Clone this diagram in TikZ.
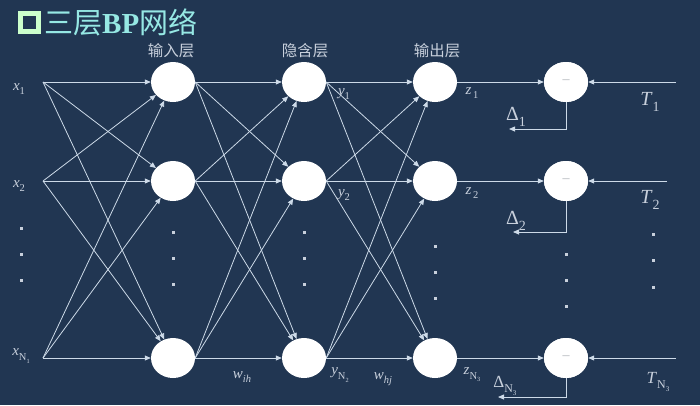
\documentclass[tikz,border=0pt]{standalone}
\usepackage{fontspec}
\setmainfont{Liberation Serif}
\newfontfamily\cjk{Noto Sans CJK SC}
\usetikzlibrary{arrows.meta,shapes.geometric}
\definecolor{bg}{RGB}{33,54,82}
\definecolor{linec}{RGB}{205,218,232}
\definecolor{labc}{RGB}{200,208,220}
\definecolor{titlec}{RGB}{150,232,228}
\definecolor{boxc}{RGB}{204,255,204}
\definecolor{minusc}{RGB}{175,180,185}
\newcommand\lbl[2]{\textit{#1}\raisebox{-0.28em}{\scalebox{0.7}{#2}}}
\newcommand\lblN[3]{\textit{#1}\raisebox{-0.3em}{\scalebox{0.7}{#2\raisebox{-0.25em}{\scalebox{0.6}{#3}}}}}
\tikzset{
  neuron/.style={ellipse, fill=white, draw=none, minimum width=44pt, minimum height=40pt, inner sep=0pt},
  minusnode/.style={neuron, font=\fontsize{14}{14}\selectfont, text=minusc},
  conn/.style={draw=linec, line width=0.8pt, -{Triangle[length=6pt,width=5pt]}},
  lab/.style={text=labc, inner sep=0pt, font=\fontsize{15}{15}\selectfont},
  biglab/.style={text=labc, inner sep=0pt, font=\fontsize{20}{20}\selectfont},
  midlab/.style={text=labc, inner sep=0pt, font=\fontsize{17}{17}\selectfont},
  layerlab/.style={text=labc, inner sep=0pt, font=\cjk\fontsize{15.5}{15.5}\selectfont},
  dotmark/.style={fill=labc, minimum size=3pt, inner sep=0pt}
}
\begin{document}
\begin{tikzpicture}[x=1pt,y=-1pt]
\fill[bg] (0,0) rectangle (700,405);
\useasboundingbox (0,0) rectangle (700,405);
% title
\node[draw=boxc, line width=5pt, fill=bg, minimum size=18pt, inner sep=0pt] (tbox) at (29.5,22) {};
\node[anchor=west, text=titlec, inner sep=0pt, font=\cjk\fontsize{29}{29}\selectfont] (title) at (44,22) {三层{\rmfamily\bfseries BP}网络};
% layer labels
\node[layerlab] (L1) at (171,51) {输入层};
\node[layerlab] (L2) at (305,51) {隐含层};
\node[layerlab] (L3) at (437,51) {输出层};
% input points
\coordinate (s1) at (43,82);
\coordinate (s2) at (43,181);
\coordinate (s3) at (43,358);
% neurons
\foreach \n/\x in {i/173,h/304,o/435,m/566}{
  \node[neuron] (\n1) at (\x,82) {};
  \node[neuron] (\n2) at (\x,181) {};
  \node[neuron] (\n3) at (\x,358) {};
}
\foreach \k in {1,2,3}{\node[minusnode] (mm\k) at (m\k) {--};}
% connections
\foreach \a in {1,2,3}{\foreach \b in {1,2,3}{
  \draw[conn] (s\a) -- (i\b);
  \draw[conn] (i\a.east) -- (h\b);
  \draw[conn] (h\a.east) -- (o\b);
}}
\foreach \k in {1,2,3}{\draw[conn] (o\k.east) -- (m\k);}
% targets
\coordinate (t1) at (676,82);
\coordinate (t2) at (667,181);
\coordinate (t3) at (676,358);
\foreach \k in {1,2,3}{\draw[conn] (t\k) -- (m\k);}
% feedback
\coordinate (d1) at (509,129);
\coordinate (d2) at (513,232);
\coordinate (d3) at (498,397);
\foreach \k in {1,2,3}{\draw[conn] (m\k.south) |- (d\k);}
% labels
\node[lab] (lx1) at (19,89) {\lbl{x}{1}};
\node[lab] (lx2) at (19,186) {\lbl{x}{2}};
\node[lab] (lx3) at (21,356) {\lblN{x}{N}{1}};
\node[lab] (ly1) at (344,94) {\lbl{y}{1}};
\node[lab] (ly2) at (344,195) {\lbl{y}{2}};
\node[lab] (ly3) at (340,375) {\lblN{y}{N}{2}};
\node[lab] (lz1) at (472,93) {\lbl{z}{\,1}};
\node[lab] (lz2) at (472,193) {\lbl{z}{\,2}};
\node[lab] (lz3) at (472,375) {\lblN{z}{N}{3}};
\node[lab] (lw1) at (242,377) {\lbl{w}{\textit{ih}}};
\node[lab] (lw2) at (383,379) {\lbl{w}{\textit{hj}}};
\node[biglab] (ld1) at (516,117) {\lbl{\upshape Δ}{1}};
\node[biglab] (ld2) at (516,221) {\lbl{\upshape Δ}{2}};
\node[midlab] (ld3) at (505,386) {\lblN{\upshape Δ}{N}{3}};
\node[biglab] (lt1) at (650,102) {\lbl{T}{1}};
\node[biglab] (lt2) at (650,200) {\lbl{T}{2}};
\node[midlab] (lt3) at (658,382) {\lblN{T}{N}{3}};
% dots
\foreach \x/\y in {21/228,21/254,21/280,
  173/232,173/258,173/284, 304/232,304/258,304/284,
  435/246,435/272,435/298, 566/254,566/280,566/306,
  653/234,653/260,653/287}{
  \node[dotmark] at (\x,\y) {};
}
\end{tikzpicture}
\end{document}
